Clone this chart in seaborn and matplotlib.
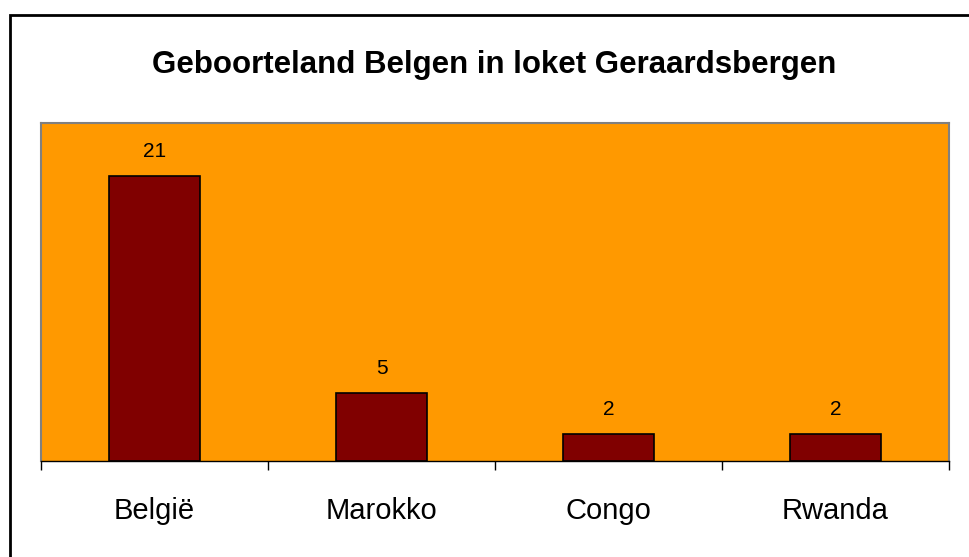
import matplotlib.pyplot as plt
import matplotlib.patches as mpatches
import seaborn as sns
import numpy as np

# data
countries = ["België", "Marokko", "Congo", "Rwanda"]
counts = [21, 5, 2, 2]
title = "Geboorteland Belgen in loket Geraardsbergen"

sns.set_theme(style="white")
plt.rcParams['font.family'] = ['Liberation Sans', 'DejaVu Sans']
plt.rcParams['text.color'] = 'black'
plt.rcParams['xtick.color'] = 'black'

fig = plt.figure(figsize=(9.7, 5.57), dpi=100)
fig.patch.set_facecolor("white")
ax = fig.add_axes([41 / 970, 1 - 461 / 557, 908 / 970, 338 / 557])
ax.set_facecolor("#FF9900")

sns.barplot(x=countries, y=counts, color="#800000", saturation=1,
            edgecolor="black", linewidth=1.2, width=0.405, ax=ax)
ax.bar_label(ax.containers[0], fmt="%d", fontsize=15, padding=11, color="black")

ax.set_ylim(0, 24.9)
ax.set_xlim(-0.5, len(countries) - 0.5)
ax.set_yticks([])
ax.set_ylabel("")
ax.set_xlabel("")

# category boundary ticks, labels centred between them
ax.set_xticks(np.arange(len(countries) + 1) - 0.5)
ax.set_xticklabels([])
ax.set_xticks(np.arange(len(countries)), minor=True)
ax.set_xticklabels(countries, minor=True, fontsize=21, color="black")
ax.tick_params(axis="x", which="major", direction="out", length=6.5, width=1,
               color="black", bottom=True)
ax.tick_params(axis="x", which="minor", length=0, pad=26)

for side in ["left", "top", "right"]:
    ax.spines[side].set_color("#808080")
    ax.spines[side].set_linewidth(1.5)
ax.spines["bottom"].set_color("black")
ax.spines["bottom"].set_linewidth(1)

fig.text(494 / 970, 1 - 65 / 557, title, ha="center", va="center",
         fontsize=22.5, fontweight="bold", color="black")

# outer chart border (cut off at right and bottom)
border = mpatches.Rectangle((10.5 / 970, -0.2), 1.2, 1.2 - 14.5 / 557,
                            transform=fig.transFigure, fill=False,
                            edgecolor="black", linewidth=2, clip_on=False)
fig.patches.append(border)

fig.savefig("out.png", dpi=100)
